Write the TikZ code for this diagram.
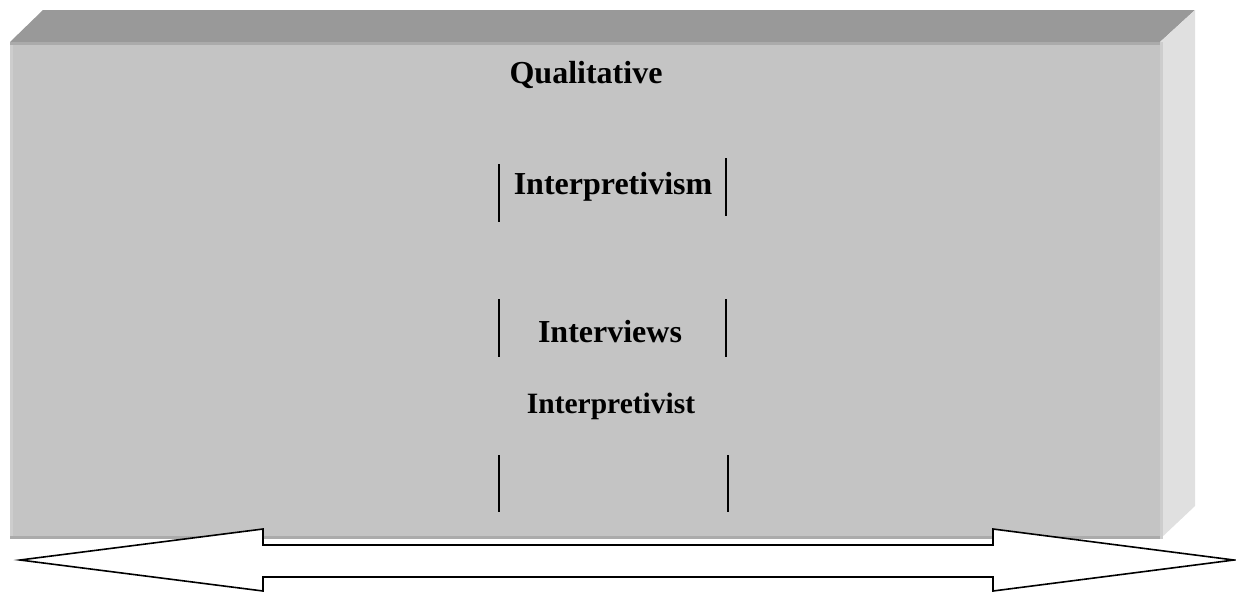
\documentclass[tikz,border=0pt]{standalone}
\usepackage{fontspec}
\setmainfont{Liberation Serif}
\definecolor{topface}{HTML}{999999}
\definecolor{frontface}{HTML}{C4C4C4}
\definecolor{sideface}{HTML}{E0E0E0}
\definecolor{rimdark}{HTML}{ABABAB}
\definecolor{rimlight}{HTML}{CDCDCD}
\tikzset{
  label big/.style={inner sep=0pt, anchor=base, font=\fontsize{32}{38}\selectfont\bfseries},
  label small/.style={inner sep=0pt, anchor=base, font=\fontsize{29.5}{35}\selectfont\bfseries},
  bar/.style={line width=1.6pt, black},
}
\begin{document}
\begin{tikzpicture}[x=1pt,y=-1pt]
    \useasboundingbox (0,0) rectangle (1236,592);

        % the box
        \fill[topface] (10,42) -- (43,10) -- (1195,10) -- (1160,42) -- cycle;
        \fill[sideface] (1160,42) -- (1195,10) -- (1195,506) -- (1160,539) -- cycle;
        \fill[frontface] (10,42) rectangle (1160,539);
        \fill[rimdark] (10,42) rectangle (1160,45);
        \fill[rimlight] (10,45) rectangle (13,539);
        \fill[rimdark] (10,536) rectangle (1160,539);
        \fill[rimlight] (1160,42) rectangle (1163,539);

        \node[label big] (qual) at (586,83) {Qualitative};
        \node[label big] (interp) at (613,194) {Interpretivism};
        \node[label big] (intv) at (610,342) {Interviews};
        \node[label small] (interpist) at (611,413) {Interpretivist};

        \draw[bar] (499,164) -- (499,222);
        \draw[bar] (726,158) -- (726,216);
        \draw[bar] (499,299) -- (499,357);
        \draw[bar] (726,299) -- (726,357);
        \draw[bar] (499,455) -- (499,512);
        \draw[bar] (728,455) -- (728,512);

        % double arrow
        \draw[line width=1.6pt, fill=white, line join=miter]
            (20,560) -- (263,529) -- (263,545) -- (993,545) -- (993,529)
            -- (1234,560) -- (993,591) -- (993,577) -- (263,577) -- (263,591) -- cycle;
    \end{tikzpicture}
\end{document}
